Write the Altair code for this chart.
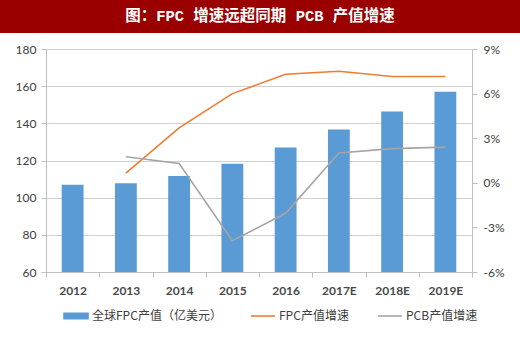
import altair as alt
import pandas as pd

years = ["2012", "2013", "2014", "2015", "2016", "2017E", "2018E", "2019E"]
fpc_value = [107, 107.8, 111.6, 118.2, 127, 136.7, 146.4, 157]
fpc_growth = [None, 0.65, 3.7, 6.0, 7.3, 7.5, 7.15, 7.15]
pcb_growth = [None, 1.75, 1.3, -3.9, -2.05, 2.0, 2.3, 2.4]

bar_name = "全球FPC产值（亿美元）"
fpc_name = "FPC产值增速"
pcb_name = "PCB产值增速"
title_text = "图：FPC 增速远超同期 PCB 产值增速"

series_names = [bar_name, fpc_name, pcb_name]
series_colors = ["#5b9bd5", "#ed7d31", "#a5a5a5"]

bar_df = pd.DataFrame({"year": years, "value": fpc_value, "series": bar_name})
rows = []
for name, vals in [(fpc_name, fpc_growth), (pcb_name, pcb_growth)]:
    for y, v in zip(years, vals):
        if v is not None:
            rows.append({"year": y, "value": v, "series": name})
line_df = pd.DataFrame(rows)
hdr = pd.DataFrame({"t": [title_text]})

LAT = "Lato"
CJK = "Noto Sans CJK SC"
AX = "#bfbfbf"
is_bar = "datum.value === '" + bar_name + "'"

color_scale = alt.Scale(domain=series_names, range=series_colors)
legend = alt.Legend(
    orient="none", legendX=17, legendY=254, direction="horizontal", title=None,
    symbolType=alt.ExprRef(expr=is_bar + " ? 'M-1,-0.22H1V0.22H-1Z' : 'stroke'"),
    symbolSize=576,
    symbolStrokeWidth=1.6,
    symbolFillColor=alt.ExprRef(expr=is_bar + " ? '#5b9bd5' : 'transparent'"),
    symbolStrokeColor=alt.ExprRef(expr=is_bar + " ? 'transparent' : scale('color', datum.value)"),
    labelFont=CJK, labelFontSize=12, labelColor="#404040", columnPadding=25,
    labelOffset=3, labelLimit=300,
)

x_enc = alt.X(
    "year:N", sort=years, title=None,
    scale=alt.Scale(domain=years, paddingInner=0, paddingOuter=0),
    axis=alt.Axis(tickBand="extent", domainColor=AX, tickColor=AX, tickSize=5,
                  labelFont=LAT, labelFontSize=12, labelColor="#4a4a4a",
                  labelFontWeight="bold",
                  labelPadding=8, labelAngle=0, grid=False),
)

bars = alt.Chart(bar_df).mark_bar(width=alt.RelativeBandSize(0.41)).encode(
    x=x_enc,
    y=alt.Y("value:Q", title=None,
            scale=alt.Scale(domain=[60, 180], nice=False, zero=False),
            axis=alt.Axis(values=[60, 80, 100, 120, 140, 160, 180], domainColor=AX,
                          tickColor=AX, tickSize=5, labelFont=LAT, labelFontSize=12,
                          labelColor="#404040", labelPadding=5, grid=True,
                          gridColor="#d0d0d0")),
    y2=alt.datum(60),
    color=alt.Color("series:N", scale=color_scale, legend=legend),
)

lines = alt.Chart(line_df).mark_line(strokeWidth=1.6).encode(
    x=alt.X("year:N", sort=years, title=None),
    y=alt.Y("value:Q", title=None,
            scale=alt.Scale(domain=[-6, 9], nice=False, zero=False),
            axis=alt.Axis(orient="right", values=[-6, -3, 0, 3, 6, 9],
                          labelExpr="datum.value + '%'", domainColor=AX,
                          tickColor=AX, tickSize=5, labelFont=LAT, labelFontSize=12,
                          labelColor="#404040", labelPadding=6, grid=False)),
    color=alt.Color("series:N", scale=color_scale, legend=legend),
)

band = alt.Chart(hdr).mark_rect(color="#9a0000").encode(
    x=alt.value(-46), x2=alt.value(474), y=alt.value(-49), y2=alt.value(-16)
)
ttl = alt.Chart(hdr).mark_text(font="Liberation Mono, Noto Sans CJK SC", fontSize=15.5,
                               fontWeight="bold", color="white",
                               align="center", baseline="middle").encode(
    text="t:N", x=alt.value(214), y=alt.value(-33)
)

chart = alt.layer(bars, lines, band, ttl).resolve_scale(y="independent").properties(
    width=426, height=223,
    autosize=alt.AutoSizeParams(type="none"),
    padding={"left": 46, "top": 49, "right": 48, "bottom": 68},
    background="white",
).configure_view(stroke=None)

chart.save("out.html", embed_options={"renderer": "svg", "actions": False})
